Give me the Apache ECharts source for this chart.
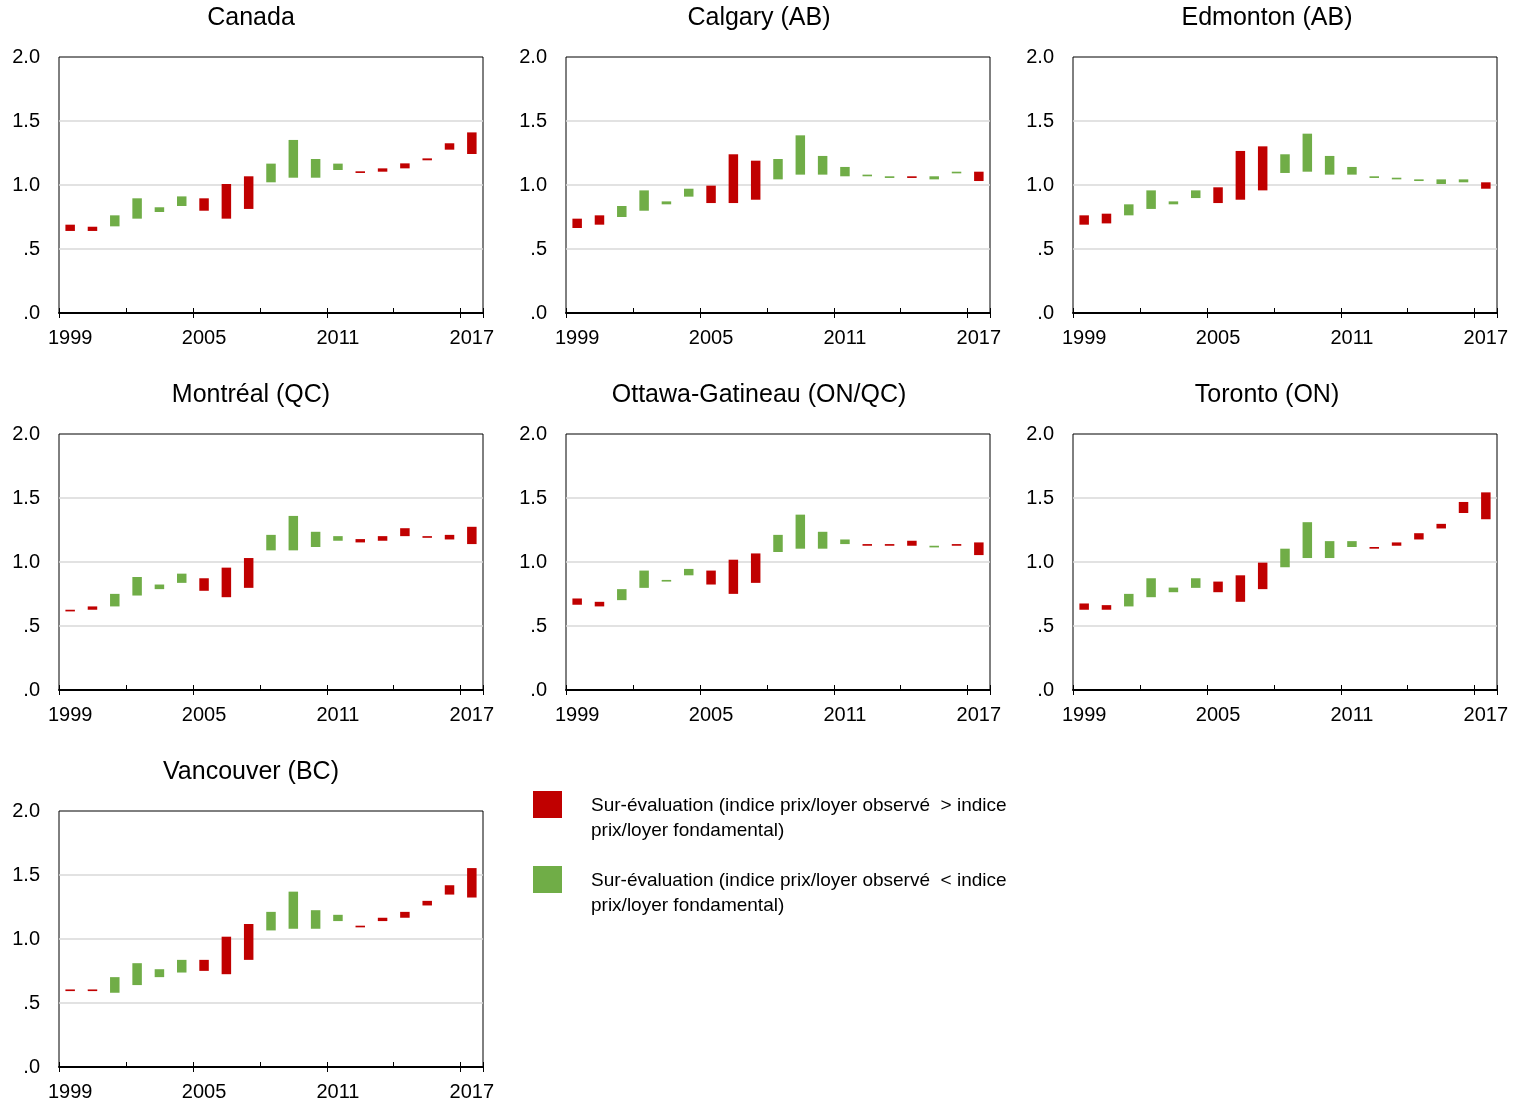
<!DOCTYPE html>
<html>
<head>
<meta charset="utf-8">
<script src="https://cdn.jsdelivr.net/npm/echarts@6/dist/echarts.min.js"></script>
<style>
html,body{margin:0;padding:0;background:#fff;}
#chart{width:1519px;height:1105px;}
</style>
</head>
<body>
<div id="chart"></div>
<script>
const years = ['1999','2000','2001','2002','2003','2004','2005','2006','2007','2008','2009','2010','2011','2012','2013','2014','2015','2016','2017'];
const panelTitles = ['Canada', 'Calgary (AB)', 'Edmonton (AB)', 'Montréal (QC)', 'Ottawa-Gatineau (ON/QC)', 'Toronto (ON)', 'Vancouver (BC)'];
const legendOver = 'Sur-évaluation (indice prix/loyer observé  > indice\nprix/loyer fondamental)';
const legendUnder = 'Sur-évaluation (indice prix/loyer observé  < indice\nprix/loyer fondamental)';
const yTickValues = [0, 0.5, 1.0, 1.5, 2.0];

// observed and fundamental price/rent index
const canadaObs = [0.690,0.674,0.677,0.737,0.789,0.836,0.896,1.008,1.068,1.021,1.057,1.057,1.117,1.107,1.130,1.169,1.208,1.326,1.411];
const canadaFund = [0.641,0.641,0.763,0.896,0.826,0.911,0.799,0.737,0.813,1.167,1.352,1.203,1.167,1.094,1.104,1.130,1.193,1.276,1.242];
const calgaryObs = [0.737,0.763,0.750,0.799,0.849,0.909,0.995,1.240,1.190,1.044,1.081,1.081,1.068,1.068,1.055,1.068,1.044,1.091,1.104];
const calgaryFund = [0.664,0.690,0.836,0.958,0.872,0.971,0.859,0.859,0.885,1.203,1.388,1.227,1.141,1.081,1.068,1.055,1.068,1.104,1.031];
const edmontonObs = [0.763,0.776,0.763,0.813,0.849,0.898,0.982,1.266,1.302,1.094,1.104,1.081,1.081,1.055,1.044,1.031,1.008,1.021,1.021];
const edmontonFund = [0.690,0.700,0.849,0.958,0.872,0.958,0.859,0.885,0.958,1.240,1.401,1.227,1.141,1.068,1.057,1.044,1.044,1.044,0.971];
const montrealObs = [0.627,0.653,0.653,0.738,0.788,0.837,0.873,0.956,1.031,1.091,1.091,1.117,1.166,1.179,1.202,1.264,1.202,1.212,1.275];
const montrealFund = [0.614,0.627,0.751,0.883,0.824,0.909,0.775,0.725,0.798,1.212,1.360,1.236,1.202,1.153,1.166,1.202,1.189,1.176,1.140];
const ottawaObs = [0.715,0.689,0.702,0.798,0.847,0.896,0.933,1.018,1.067,1.078,1.104,1.104,1.140,1.140,1.140,1.166,1.114,1.140,1.153];
const ottawaFund = [0.666,0.653,0.788,0.933,0.860,0.946,0.824,0.751,0.837,1.212,1.370,1.236,1.176,1.127,1.127,1.127,1.127,1.127,1.054];
const torontoObs = [0.676,0.663,0.653,0.725,0.764,0.798,0.847,0.896,0.995,0.959,1.031,1.031,1.117,1.117,1.153,1.225,1.298,1.469,1.544];
const torontoFund = [0.627,0.627,0.751,0.873,0.800,0.873,0.764,0.689,0.788,1.104,1.311,1.163,1.163,1.104,1.127,1.176,1.262,1.383,1.334];
const vancouverObs = [0.606,0.606,0.580,0.640,0.702,0.738,0.837,1.018,1.117,1.067,1.080,1.080,1.140,1.104,1.166,1.212,1.298,1.420,1.554];
const vancouverFund = [0.593,0.593,0.702,0.811,0.764,0.837,0.751,0.725,0.837,1.212,1.370,1.225,1.189,1.091,1.140,1.166,1.262,1.347,1.324];

const panelObs = [canadaObs, calgaryObs, edmontonObs, montrealObs, ottawaObs, torontoObs, vancouverObs];
const panelFund = [canadaFund, calgaryFund, edmontonFund, montrealFund, ottawaFund, torontoFund, vancouverFund];

const RED = '#C00000';
const GREEN = '#70AD47';
const FONT = '"Liberation Sans", Arial, sans-serif';

const colLeft = [59, 566, 1073];
const rowTop = [57, 434, 811];
const colCenter = [251, 759, 1267];
const gridW = 424, gridH = 256;

const grids = [], xAxes = [], yAxes = [], series = [], graphics = [];

panelTitles.forEach((title, p) => {
  const col = p % 3, row = Math.floor(p / 3);
  grids.push({
    left: colLeft[col], top: rowTop[row], width: gridW, height: gridH,
    show: true, borderColor: '#000', borderWidth: 1, backgroundColor: 'transparent'
  });
  // main x axis: labels + inner ticks
  xAxes.push({
    type: 'category', gridIndex: p, data: years, position: 'bottom', boundaryGap: true,
    axisLine: { show: true, lineStyle: { color: '#000', width: 2 } },
    axisTick: { show: true, inside: true, interval: 2, length: 5, lineStyle: { color: '#000', width: 1 } },
    axisLabel: { interval: 5, color: '#000', fontSize: 20, fontFamily: FONT, margin: 15 },
    splitLine: { show: false }
  });
  // secondary x axis: outer ticks at labelled years
  xAxes.push({
    type: 'category', gridIndex: p, data: years, position: 'bottom', boundaryGap: true,
    axisLine: { show: false },
    axisTick: { show: true, inside: false, interval: 5, length: 5, lineStyle: { color: '#000', width: 1 } },
    axisLabel: { show: false },
    splitLine: { show: false }
  });
  yAxes.push({
    type: 'value', gridIndex: p, min: yTickValues[0], max: yTickValues[yTickValues.length - 1], interval: 0.5,
    axisLine: { show: false }, axisTick: { show: false },
    axisLabel: {
      color: '#000', fontSize: 20, fontFamily: FONT, margin: 19,
      formatter: v => v.toFixed(1).replace(/^0/, '')
    },
    splitLine: { show: true, showMinLine: false, showMaxLine: false, lineStyle: { color: '#D9D9D9', width: 1.5 } }
  });
  const obs = panelObs[p], fund = panelFund[p];
  const base = obs.map((o, i) => Math.min(o, fund[i]));
  const over = obs.map((o, i) => o >= fund[i] ? +(o - fund[i]).toFixed(4) : '-');
  const under = obs.map((o, i) => o < fund[i] ? +(fund[i] - o).toFixed(4) : '-');
  const common = { type: 'bar', xAxisIndex: p * 2, yAxisIndex: p, stack: 'p' + p, barWidth: 9.5, silent: true, animation: false };
  series.push(Object.assign({}, common, { name: 'base', data: base, itemStyle: { color: 'transparent' } }));
  series.push(Object.assign({}, common, { name: 'over', data: over, itemStyle: { color: RED } }));
  series.push(Object.assign({}, common, { name: 'under', data: under, itemStyle: { color: GREEN } }));

  graphics.push({
    type: 'text', x: colCenter[col], y: rowTop[row] - 39,
    style: { text: title, font: '25px ' + FONT, fill: '#000', align: 'center', verticalAlign: 'middle' }
  });
});

// legend
graphics.push({ type: 'rect', shape: { x: 533, y: 791, width: 29, height: 27 }, style: { fill: RED } });
graphics.push({ type: 'text', x: 591, y: 793, style: { text: legendOver, font: '19px ' + FONT, fill: '#000', lineHeight: 25, align: 'left', verticalAlign: 'top' } });
graphics.push({ type: 'rect', shape: { x: 533, y: 866, width: 29, height: 27 }, style: { fill: GREEN } });
graphics.push({ type: 'text', x: 591, y: 868, style: { text: legendUnder, font: '19px ' + FONT, fill: '#000', lineHeight: 25, align: 'left', verticalAlign: 'top' } });

const chart = echarts.init(document.getElementById('chart'), null, { renderer: 'canvas' });
chart.setOption({
  animation: false,
  backgroundColor: '#fff',
  grid: grids,
  xAxis: xAxes,
  yAxis: yAxes,
  series: series,
  graphic: graphics
});
</script>
</body>
</html>
